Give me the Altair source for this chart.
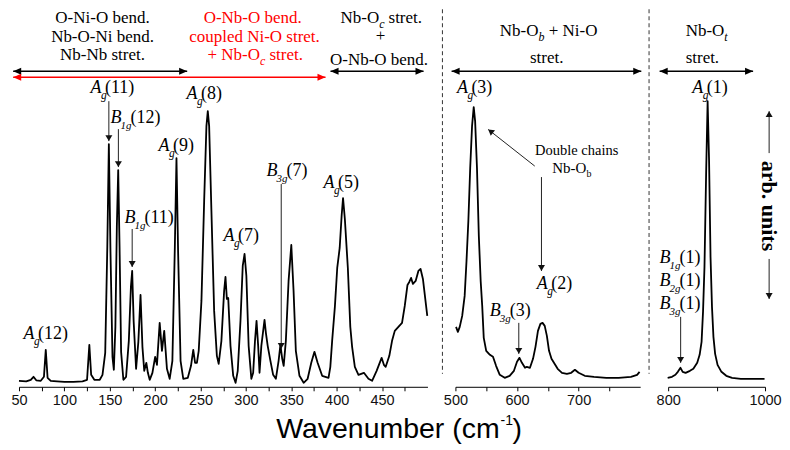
import altair as alt
import pandas as pd

# ---------------- spectrum data (wavenumber, intensity in arb. units) ----------------
wn1 = [50, 58, 63, 66, 69, 74, 77.5, 79.5, 81.5, 85, 92, 100, 110, 120, 125, 127.5, 129.5, 133, 139, 142,
       145, 147.3, 149, 150.8, 153, 154.5, 156.2, 157.8, 159.3, 160.8, 162.5, 165, 168, 171, 173.3, 174.7,
       176.3, 179, 181.5, 183.9, 186, 188, 190.3, 192, 194, 197, 200, 202, 205, 207.5, 210, 213, 216, 219,
       221.7, 223.5, 225.3, 228, 231, 236, 239.5, 242, 244, 246, 248, 251, 254, 256.5, 258, 259.5, 262, 265,
       268, 270, 273, 276, 277.5, 279, 280.5, 283, 286, 288.6, 291, 294, 296.5, 298.5, 300.5, 303, 306, 308,
       310, 311.7, 313.5, 315, 317, 320.5, 322, 324, 327, 330, 333, 336, 338, 340, 341.6, 344, 347, 350,
       352.5, 355, 359, 363.6, 368, 372, 375.5, 379, 384, 391, 393, 395, 398, 400.6, 403.3, 405.5, 407, 409,
       412.3, 415, 417, 420, 424, 430, 435, 439, 444, 449.5, 452, 454, 458, 461, 464, 467, 472, 475, 478,
       480, 482, 484, 487, 490, 492.4, 495, 499.8]
int1 = [6, 5.5, 7, 10, 6.5, 6, 10, 37, 9, 6, 5.5, 5, 5, 5.5, 7, 42, 12, 7, 7, 12,
        34, 140, 243, 135, 30, 17, 60, 160, 217, 140, 35, 7, 10, 46, 100, 116,
        66, 18, 45, 92, 40, 16, 24, 14, 7, 14, 30, 22, 64, 36, 56, 18, 8, 26,
        140, 229, 135, 26, 8, 9, 21, 37, 24, 24, 36, 86, 186, 261, 276, 261, 176, 76,
        31, 23, 46, 96, 110, 88, 89, 41, 11, 4, 16, 66, 121, 133, 111, 41, 8, 14,
        46, 66, 41, 14, 41, 67, 54, 41, 26, 12, 8, 26, 42, 28, 21, 46, 106, 142,
        96, 36, 11, 4, 8, 24, 35, 24, 11, 9, 20, 46, 80, 119, 139, 172, 189, 168,
        119, 60, 40, 20, 12, 14, 8, 6, 16, 29, 22, 20, 31, 46, 56, 59, 64, 81, 102,
        105, 109, 103, 106, 116, 118, 108, 71]

wn2 = [501, 504, 507, 511, 515, 518, 521, 524, 527, 529.7, 532, 535, 538, 541, 543.5, 546, 550, 556, 561,
       566, 572, 580, 588, 595, 600, 604, 608, 613, 616, 621, 626, 630, 634, 638, 641.5, 645, 648.5, 652,
       656, 660, 666, 673, 681, 688, 694, 700, 710, 725, 745, 765, 785, 795, 799]
int2 = [60, 55, 60, 71, 91, 126, 166, 219, 261, 280, 266, 219, 151, 106, 81, 49, 36, 32, 30,
        21, 12, 9, 11, 16, 25, 29, 24, 19, 20, 19, 28, 40, 56, 63, 64, 61, 51, 36,
        28, 24, 18, 14, 13, 14, 17, 14, 11, 10, 9, 9, 10, 12, 15]

wn3 = [799, 808, 815, 820, 825.5, 830, 836, 845, 852, 860, 865, 869, 872, 875, 878.5, 881.5, 884.5,
       887.5, 890.5, 893.5, 897, 902, 910, 920, 932, 950, 975, 999]
int3 = [9, 10, 12, 15, 19, 15, 14, 16, 18, 24, 32, 45, 75, 120, 216, 286, 226,
        130, 80, 50, 33, 22, 15, 11, 9, 8, 8, 8]

# ---------------- axes ----------------
ticks1 = [50, 75, 100, 125, 150, 175, 200, 225, 250, 275, 300, 325, 350, 375, 400, 425, 450, 475]
labels1 = [50, 100, 150, 200, 250, 300, 350, 400, 450]
ticks2 = [500, 550, 600, 650, 700, 750]
labels2 = [500, 600, 700]
ticks3 = [800, 900, 1000]
labels3 = [800, 1000]
domains = {1: [50, 500], 2: [500, 800], 3: [800, 1000]}
tick_sets = {1: (ticks1, labels1), 2: (ticks2, labels2), 3: (ticks3, labels3)}

# ---------------- annotations ----------------
# peak labels: panel, wavenumber, baseline intensity, letter, subscript, number
peak_labels = [
    (1, 55, 48, "A", "g", "(12)"),
    (1, 128.8, 294, "A", "g", "(11)"),
    (1, 150.8, 264, "B", "1g", "(12)"),
    (1, 203.7, 236, "A", "g", "(9)"),
    (1, 166.3, 164, "B", "1g", "(11)"),
    (1, 234.6, 288, "A", "g", "(8)"),
    (1, 275.3, 146, "A", "g", "(7)"),
    (1, 322.7, 211, "B", "3g", "(7)"),
    (1, 385.5, 199, "A", "g", "(5)"),
    (2, 502.4, 294, "A", "g", "(3)"),
    (2, 632.1, 98, "A", "g", "(2)"),
    (2, 555.9, 71, "B", "3g", "(3)"),
    (3, 850, 294, "A", "g", "(1)"),
    (3, 782.4, 124, "B", "1g", "(1)"),
    (3, 782.4, 101, "B", "2g", "(1)"),
    (3, 782.4, 78, "B", "3g", "(1)"),
]

# vertical arrows: panel, wavenumber, start intensity, tip intensity
v_arrows = [
    (1, 149, 286, 246),
    (1, 159.5, 258, 220),
    (1, 174.7, 158, 120),
    (1, 338.9, 203, 38),
    (2, 639.7, 210, 116),
    (2, 602.9, 64, 33),
    (3, 825.8, 70, 24),
    (3, 1008.5, 234, 276),
    (3, 1008.5, 128, 88),
]

# double-headed horizontal arrows: panel, from, to, intensity, colour
h_arrows = [
    (1, 43.6, 235.3, 316, "black"),
    (1, 43.6, 387.7, 310, "#ff0000"),
    (1, 393.2, 495.7, 316, "black"),
    (2, 493.8, 801.8, 316, "black"),
    (3, 782.4, 975.4, 316, "black"),
]

# diagonal arrow: panel, x start, y start, x tip, y tip, head angle
d_arrows = [(2, 628.8, 221, 553.2, 257.7, 308)]

# dashed separators: panel, wavenumber, y top, y bottom
separators = [(2, 478.9, 378, 13), (2, 814.4, 378, 13)]

SERIF = "Liberation Serif"
SANS = "Liberation Sans"
K = "black"
R = "#ff0000"
# text pieces: panel, x, y, text, size, style, colour, align, dx, dy, font, angle, baseline
texts = [
    (1, 142, 364, "O-Ni-O bend.", 17, "n", K, "center", 0, 0, SERIF, 0, "alphabetic"),
    (1, 142, 345.5, "Nb-O-Ni bend.", 17, "n", K, "center", 0, 0, SERIF, 0, "alphabetic"),
    (1, 142, 327, "Nb-Nb stret.", 17, "n", K, "center", 0, 0, SERIF, 0, "alphabetic"),
    (1, 307.5, 364, "O-Nb-O bend.", 17, "n", R, "center", 0, 0, SERIF, 0, "alphabetic"),
    (1, 309.5, 345.5, "coupled Ni-O stret.", 17, "n", R, "center", 0, 0, SERIF, 0, "alphabetic"),
    (1, 257.7, 327, "+ Nb-O", 17, "n", R, "left", 0, 0, SERIF, 0, "alphabetic"),
    (1, 257.7, 327, "c", 12, "i", R, "left", 52.5, 5, SERIF, 0, "alphabetic"),
    (1, 257.7, 327, "stret.", 17, "n", R, "left", 62, 0, SERIF, 0, "alphabetic"),
    (1, 404.3, 364, "Nb-O", 17, "n", K, "left", 0, 0, SERIF, 0, "alphabetic"),
    (1, 404.3, 364, "c", 12, "i", K, "left", 38.7, 5, SERIF, 0, "alphabetic"),
    (1, 404.3, 364, "stret.", 17, "n", K, "left", 48, 0, SERIF, 0, "alphabetic"),
    (1, 448.3, 346, "+", 17, "n", K, "center", 0, 0, SERIF, 0, "alphabetic"),
    (1, 446.7, 322, "O-Nb-O bend.", 17, "n", K, "center", 0, 0, SERIF, 0, "alphabetic"),
    (1, 579.5, -51, "Wavenumber (cm", 28.5, "n", K, "right", 0, 0, SANS, 0, "alphabetic"),
    (1, 579.5, -51, "-1", 14, "n", K, "left", 1, -13, SANS, 0, "alphabetic"),
    (1, 579.5, -51, ")", 28.5, "n", K, "left", 13, 0, SANS, 0, "alphabetic"),
    (2, 572.1, 351, "Nb-O", 17, "n", K, "left", 0, 0, SERIF, 0, "alphabetic"),
    (2, 572.1, 351, "b", 12, "i", K, "left", 38.7, 5, SERIF, 0, "alphabetic"),
    (2, 572.1, 351, "+ Ni-O", 17, "n", K, "left", 49, 0, SERIF, 0, "alphabetic"),
    (2, 648.3, 324, "stret.", 17, "n", K, "center", 0, 0, SERIF, 0, "alphabetic"),
    (2, 696.9, 232, "Double chains", 14.5, "n", K, "center", 0, 0, SERIF, 0, "alphabetic"),
    (2, 657.2, 214, "Nb-O", 15, "n", K, "left", 0, 0, SERIF, 0, "alphabetic"),
    (2, 657.2, 214, "b", 10, "n", K, "left", 34.2, 4, SERIF, 0, "alphabetic"),
    (3, 836.2, 351, "Nb-O", 17, "n", K, "left", 0, 0, SERIF, 0, "alphabetic"),
    (3, 836.2, 351, "t", 12, "i", K, "left", 38.7, 5, SERIF, 0, "alphabetic"),
    (3, 870.7, 324, "stret.", 17, "n", K, "center", 0, 0, SERIF, 0, "alphabetic"),
    (3, 1008.5, 181, "arb. units", 22, "b", K, "center", 0, 0, SERIF, 90, "middle"),
]

# ---------------- helpers ----------------
H = 378
WIDTH = {1: 409, 2: 185, 3: 97}
YS = alt.Scale(domain=[0, 378], nice=False, zero=False)

HEAD_DOWN = "M0,0L-1,-1.7L1,-1.7Z"
HEAD_UP = "M0,0L-1,1.7L1,1.7Z"
HEAD_LEFT = "M0,0L2.3,-1L2.3,1Z"
HEAD_RIGHT = "M0,0L-2.3,-1L-2.3,1Z"


def xs(p):
    return alt.Scale(domain=domains[p], nice=False, zero=False)


def xaxis(p):
    ticks, labels = tick_sets[p]
    expr = "indexof([%s], datum.value) >= 0 ? format(datum.value, 'd') : ''" % ",".join(str(v) for v in labels)
    return alt.Axis(
        values=ticks, labelExpr=expr, title=None, grid=False, tickSize=4, tickWidth=1,
        domainColor="black", domainWidth=1, tickColor="black", labelColor="#111",
        labelFont=SANS, labelFontSize=14.5, labelPadding=3, labelFlush=False, labelOverlap=False)


def enc_xy(p, xf="x", yf="y"):
    return dict(x=alt.X(f"{xf}:Q", scale=xs(p), axis=xaxis(p)),
                y=alt.Y(f"{yf}:Q", scale=YS, axis=None))


def spectrum(p, wn, inten):
    df = pd.DataFrame({"x": wn, "y": inten})
    return alt.Chart(df).mark_line(color="black", strokeWidth=1.8, strokeJoin="round").encode(**enc_xy(p))


def text_layer(p, x, y, s, size, style, color, align, dx, dy, font, angle, baseline):
    df = pd.DataFrame({"x": [x], "y": [y], "t": [s]})
    return alt.Chart(df).mark_text(
        font=font, fontSize=size, color=color, align=align, baseline=baseline, dx=dx, dy=dy, angle=angle,
        fontStyle="italic" if style == "i" else "normal",
        fontWeight="bold" if style == "b" else "normal",
    ).encode(text="t:N", **enc_xy(p))


def head(p, x, y, shape, color, size, angle=0):
    df = pd.DataFrame({"x": [x], "y": [y]})
    return alt.Chart(df).mark_point(shape=shape, filled=True, size=size, color=color, opacity=1,
                                    strokeWidth=0, angle=angle).encode(**enc_xy(p))


layers = {1: [spectrum(1, wn1, int1)],
          2: [spectrum(2, wn2, int2)],
          3: [spectrum(3, wn3, int3)]}

for (p, x, y, s, size, style, color, align, dx, dy, font, angle, baseline) in texts:
    layers[p].append(text_layer(p, x, y, s, size, style, color, align, dx, dy, font, angle, baseline))

for (p, x, y, main, sub, num) in peak_labels:
    layers[p].append(text_layer(p, x, y, main, 18, "i", K, "left", 0, 0, SERIF, 0, "alphabetic"))
    if main == "A":
        layers[p].append(text_layer(p, x, y, sub, 11.5, "i", K, "left", 10.5, 6, SERIF, 0, "alphabetic"))
        layers[p].append(text_layer(p, x, y, num, 18, "n", K, "left", 14.5, 0, SERIF, 0, "alphabetic"))
    else:
        layers[p].append(text_layer(p, x, y, sub, 11, "i", K, "left", 10, 6, SERIF, 0, "alphabetic"))
        layers[p].append(text_layer(p, x, y, num, 18, "n", K, "left", 20, 0, SERIF, 0, "alphabetic"))

for (p, x, y0, y1) in v_arrows:
    df = pd.DataFrame({"x": [x], "y": [y0], "y2": [y1]})
    layers[p].append(alt.Chart(df).mark_rule(color="#222", strokeWidth=1).encode(
        y2="y2:Q", **enc_xy(p)))
    layers[p].append(head(p, x, y1, HEAD_DOWN if y1 < y0 else HEAD_UP, "#111", 49))

for (p, x0, x1, y, color) in h_arrows:
    df = pd.DataFrame({"x": [x0], "x2": [x1], "y": [y]})
    layers[p].append(alt.Chart(df).mark_rule(color=color, strokeWidth=1.4).encode(
        x2="x2:Q", **enc_xy(p)))
    layers[p].append(head(p, x0, y, HEAD_LEFT, color, 49))
    layers[p].append(head(p, x1, y, HEAD_RIGHT, color, 49))

for (p, x0, y0, x1, y1, ang) in d_arrows:
    df = pd.DataFrame({"x": [x0], "y": [y0], "x2": [x1], "y2": [y1]})
    layers[p].append(alt.Chart(df).mark_rule(color="#222", strokeWidth=1).encode(
        x2="x2:Q", y2="y2:Q", **enc_xy(p)))
    layers[p].append(head(p, x1, y1, HEAD_UP, "#111", 49, ang))

for (p, x, y0, y1) in separators:
    df = pd.DataFrame({"x": [x], "y": [y0], "y2": [y1]})
    layers[p].append(alt.Chart(df).mark_rule(color="#333", strokeWidth=1, strokeDash=[4, 3]).encode(
        y2="y2:Q", **enc_xy(p)))

panels = [alt.layer(*layers[p]).properties(width=WIDTH[p], height=H) for p in (1, 2, 3)]

chart = alt.hconcat(*panels, spacing=28, bounds="flush").properties(
    padding={"left": 2, "top": 0, "right": 0, "bottom": 0}
).configure_view(stroke=None)

chart.save("out.html", embed_options={"renderer": "svg", "actions": False})
